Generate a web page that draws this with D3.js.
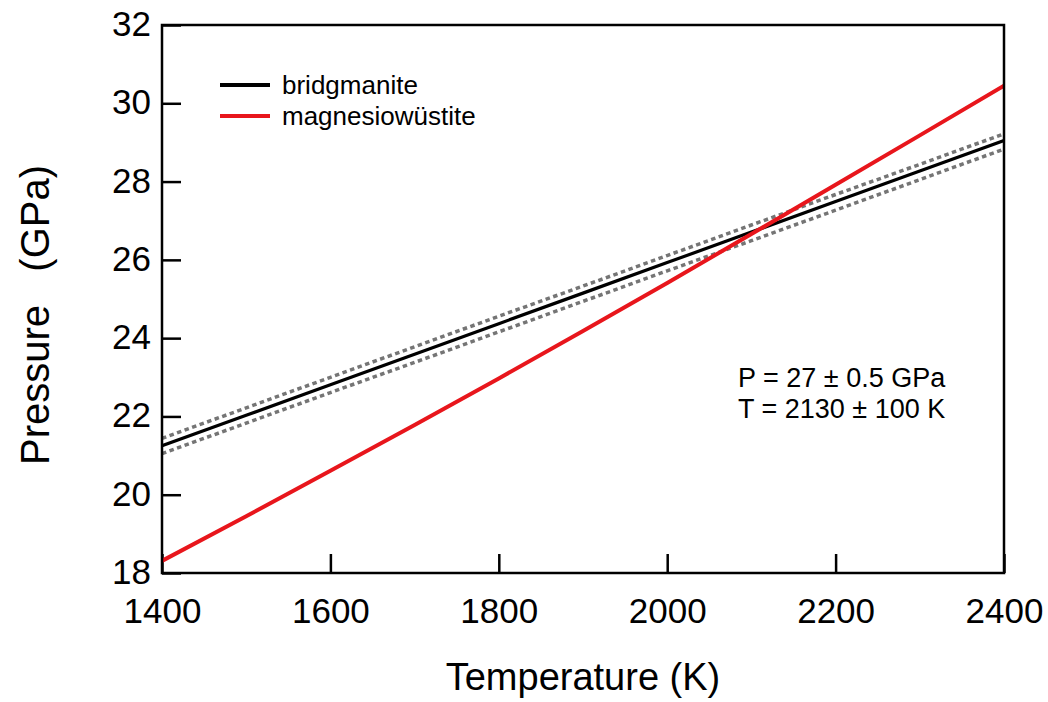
<!DOCTYPE html>
<html>
<head>
<meta charset="utf-8">
<script src="https://cdn.jsdelivr.net/npm/d3@7"></script>
<style>
  html, body { margin: 0; padding: 0; background: #fff; }
  svg { display: block; font-family: "Liberation Sans", Arial, sans-serif; }
  .tick text { font-size: 35px; fill: #000; }
  .tick line { stroke: #000; stroke-width: 2.5px; }
</style>
</head>
<body>
<svg id="chart" width="1048" height="702"></svg>
<script>
// Temperature grid (K)
const temperature = [1400, 1500, 1600, 1700, 1800, 1900, 2000, 2100, 2200, 2300, 2400];
// Pressure (GPa) of the bridgmanite curve and its uncertainty envelope
const bridgmanite      = [21.25, 22.03, 22.81, 23.59, 24.37, 25.15, 25.93, 26.71, 27.49, 28.27, 29.05];
const bridgmaniteUpper = [21.44, 22.22, 23.00, 23.78, 24.56, 25.33, 26.11, 26.89, 27.67, 28.44, 29.22];
const bridgmaniteLower = [21.05, 21.83, 22.61, 23.38, 24.16, 24.94, 25.72, 26.49, 27.27, 28.05, 28.83];
// Pressure (GPa) of the magnesiowüstite curve
const magnesiowustite  = [18.31, 19.45, 20.61, 21.78, 22.97, 24.18, 25.41, 26.66, 27.92, 29.18, 30.45];

const xTicks = [1400, 1600, 1800, 2000, 2200, 2400];
const yTicks = [18, 20, 22, 24, 26, 28, 30, 32];

const legendItems = [
  { label: "bridgmanite", color: "#000000" },
  { label: "magnesiowüstite", color: "#e8161c" }
];
const annotation = ["P = 27 ± 0.5 GPa", "T = 2130 ± 100 K"];

const svg = d3.select("#chart");
const plot = { left: 162, right: 1004, top: 25, bottom: 573 };

const x = d3.scaleLinear().domain([1400, 2400]).range([plot.left, plot.right]);
const y = d3.scaleLinear().domain([18, 32]).range([plot.bottom, plot.top]);

// Inward-pointing ticks on the bottom and left axes
const xAxis = svg.append("g")
  .attr("transform", `translate(0,${plot.bottom})`)
  .call(d3.axisBottom(x).tickValues(xTicks).tickFormat(d3.format("d"))
    .tickSizeInner(-19).tickSizeOuter(0).tickPadding(25));
xAxis.select(".domain").remove();

const yAxis = svg.append("g")
  .attr("transform", `translate(${plot.left},0)`)
  .call(d3.axisLeft(y).tickValues(yTicks).tickFormat(d3.format("d"))
    .tickSizeInner(-19).tickSizeOuter(0).tickPadding(11));
yAxis.select(".domain").remove();
yAxis.selectAll(".tick text").attr("dy", "0.3em");

svg.selectAll(".tick text").attr("font-family", null).attr("font-size", null);

// Curves
const line = vals => d3.line()
  .x((d, i) => x(temperature[i]))
  .y(d => y(d))(vals);

svg.append("clipPath").attr("id", "plot-clip")
  .append("rect")
  .attr("x", plot.left).attr("y", plot.top)
  .attr("width", plot.right - plot.left).attr("height", plot.bottom - plot.top);

const curves = svg.append("g").attr("clip-path", "url(#plot-clip)");

[bridgmaniteUpper, bridgmaniteLower].forEach(vals => {
  curves.append("path")
    .attr("d", line(vals))
    .attr("fill", "none")
    .attr("stroke", "#757575")
    .attr("stroke-width", 3.5)
    .attr("stroke-dasharray", "4.5,3.5");
});

curves.append("path")
  .attr("d", line(bridgmanite))
  .attr("fill", "none")
  .attr("stroke", "#000")
  .attr("stroke-width", 3.2);

curves.append("path")
  .attr("d", line(magnesiowustite))
  .attr("fill", "none")
  .attr("stroke", "#e8161c")
  .attr("stroke-width", 4);

// Frame
svg.append("rect")
  .attr("x", plot.left).attr("y", plot.top)
  .attr("width", plot.right - plot.left).attr("height", plot.bottom - plot.top)
  .attr("fill", "none")
  .attr("stroke", "#000")
  .attr("stroke-width", 2.5);

// Legend
const legend = svg.append("g");
legendItems.forEach((item, i) => {
  const ly = 85 + i * 31;
  legend.append("line")
    .attr("x1", 220).attr("x2", 270)
    .attr("y1", ly).attr("y2", ly)
    .attr("stroke", item.color)
    .attr("stroke-width", 4);
  legend.append("text")
    .attr("x", 282).attr("y", ly + 9)
    .attr("font-size", 26)
    .text(item.label);
});

// Annotation
annotation.forEach((t, i) => {
  svg.append("text")
    .attr("x", 738).attr("y", 387 + i * 31)
    .attr("font-size", 27)
    .text(t);
});

// Axis titles
svg.append("text")
  .attr("x", (plot.left + plot.right) / 2)
  .attr("y", 690)
  .attr("text-anchor", "middle")
  .attr("font-size", 38)
  .text("Temperature (K)");

svg.append("text")
  .attr("transform", "translate(49,315) rotate(-90)")
  .attr("text-anchor", "middle")
  .attr("font-size", 40)
  .style("white-space", "pre")
  .text("Pressure   (GPa)");
</script>
</body>
</html>
